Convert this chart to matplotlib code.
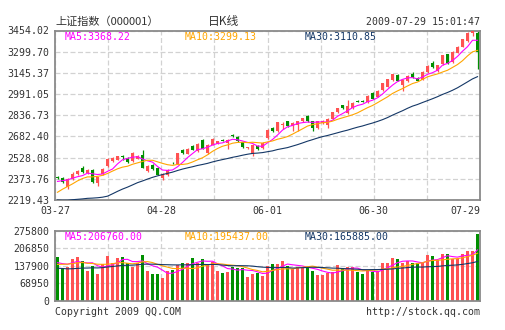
import numpy as np
import pandas as pd
import matplotlib
matplotlib.use("Agg")
import matplotlib.pyplot as plt

# x labels (every other vertical grid line)
date_labels = ["03-27", "", "04-28", "", "06-01", "", "06-30", "", "07-29"]
price_ticks = [2219.43, 2373.76, 2528.08, 2682.40, 2836.73, 2991.05, 3145.37, 3299.70, 3454.02]
volume_ticks = [0, 68950, 137900, 206850, 275800]

# 85 trading days 2009-03-27 .. 2009-07-29
opens = [2384, 2381, 2315, 2375, 2412, 2456, 2418, 2436, 2340, 2412,
         2465, 2502, 2514, 2540, 2526, 2502, 2520, 2550, 2430, 2477,
         2453, 2382, 2398, 2489, 2485, 2586, 2558, 2615, 2575, 2654,
         2563, 2622, 2628, 2656, 2636, 2690, 2678, 2639, 2597, 2557,
         2615, 2598, 2671, 2744, 2720, 2766, 2792, 2756, 2768, 2792,
         2828, 2792, 2745, 2780, 2768, 2811, 2857, 2908, 2853, 2889,
         2939, 2939, 2930, 2998, 2973, 3017, 3046, 3090, 3129, 3056,
         3087, 3136, 3111, 3095, 3153, 3216, 3160, 3209, 3281, 3225,
         3293, 3336, 3378, 3438, 3434]
highs = [2395, 2386, 2378, 2420, 2436, 2470, 2446, 2443, 2390, 2450,
         2522, 2530, 2541, 2550, 2530, 2566, 2547, 2586, 2474, 2482,
         2458, 2416, 2446, 2497, 2565, 2592, 2595, 2620, 2634, 2664,
         2626, 2670, 2652, 2662, 2663, 2697, 2684, 2644, 2608, 2626,
         2620, 2640, 2736, 2750, 2789, 2790, 2797, 2784, 2796, 2820,
         2835, 2797, 2797, 2801, 2815, 2861, 2893, 2913, 2950, 2930,
         2945, 2945, 2982, 3003, 3019, 3075, 3104, 3140, 3134, 3099,
         3128, 3153, 3116, 3157, 3200, 3233, 3205, 3278, 3286, 3304,
         3340, 3394, 3442, 3453, 3454.02]
lows = [2370, 2345, 2301, 2368, 2405, 2415, 2412, 2345, 2325, 2405,
        2460, 2497, 2510, 2509, 2490, 2497, 2515, 2450, 2425, 2440,
        2398, 2368, 2393, 2480, 2482, 2558, 2553, 2582, 2570, 2588,
        2558, 2618, 2624, 2648, 2592, 2680, 2642, 2598, 2590, 2538,
        2586, 2594, 2667, 2715, 2715, 2740, 2750, 2719, 2719, 2788,
        2788, 2719, 2740, 2776, 2744, 2806, 2852, 2884, 2848, 2884,
        2930, 2930, 2926, 2953, 2968, 3012, 3041, 3085, 3083, 3015,
        3082, 3107, 3083, 3090, 3148, 3180, 3155, 3204, 3211, 3220,
        3288, 3331, 3373, 3414, 3171]
closes = [2380, 2352, 2373, 2412, 2428, 2421, 2441, 2350, 2385, 2446,
          2518, 2526, 2537, 2536, 2495, 2562, 2543, 2455, 2470, 2447,
          2405, 2412, 2441, 2486, 2562, 2563, 2590, 2587, 2630, 2592,
          2622, 2666, 2646, 2652, 2659, 2686, 2647, 2603, 2600, 2622,
          2591, 2635, 2732, 2720, 2785, 2770, 2756, 2780, 2792, 2816,
          2792, 2745, 2792, 2797, 2811, 2857, 2889, 2889, 2901, 2925,
          2935, 2935, 2978, 2958, 3015, 3071, 3100, 3136, 3088, 3095,
          3124, 3112, 3088, 3153, 3196, 3185, 3201, 3274, 3216, 3300,
          3336, 3390, 3438, 3450, 3300]
volumes = [173, 130, 134, 164, 172, 156, 118, 137, 106, 143,
           177, 150, 169, 172, 147, 133, 150, 181, 118, 106,
           106, 91, 118, 121, 139, 150, 150, 168, 150, 165,
           144, 151, 118, 108, 112, 134, 130, 130, 95, 106,
           108, 97, 137, 146, 146, 156, 137, 123, 134, 134,
           130, 118, 102, 101, 108, 114, 140, 127, 131, 131,
           113, 104, 118, 114, 118, 150, 150, 167, 163, 147,
           156, 150, 147, 147, 180, 176, 160, 185, 185, 163,
           165, 185, 195, 195, 262]  # thousands

# the 29 sessions before 03-27, needed only for the moving averages
prior_closes = [2400, 2370, 2300, 2340, 2330, 2320, 2300, 2310, 2320, 2296,
                2010, 2000, 2040, 2070, 2080, 2050, 2080, 2060, 2070, 2078,
                2128, 2178, 2219, 2209, 2248, 2325, 2347, 2347, 2375]
prior_volumes = [165, 175, 150, 130, 120, 115, 110, 120, 105, 100,
                 95, 100, 115, 125, 120, 110, 115, 105, 110, 125,
                 125, 130, 140, 145, 140, 150, 145, 135, 147]

ma_labels_price = ["MA5:3368.22", "MA10:3299.13", "MA30:3110.85"]
ma_labels_vol = ["MA5:206760.00", "MA10:195437.00", "MA30:165885.00"]

RED = "#ff5252"
GREEN = "#008f00"
MA_COLORS = ["#ff00ff", "#ffa500", "#143766"]
GRID = "#d2d2d2"
FRAME = "#8a8a8a"
TXT = "#333333"
MONO = "DejaVu Sans Mono"
CJK = ["Noto Sans CJK SC", "DejaVu Sans"]

W, H = 505, 330


def px(x, y):
    return x / W, 1 - y / H


fig = plt.figure(figsize=(W / 100, H / 100), dpi=100)
fig.patch.set_facecolor("white")
ax = fig.add_axes([55 / W, 1 - 200 / H, 425 / W, 169.5 / H])
axv = fig.add_axes([55 / W, 1 - 300.7 / H, 425 / W, 70 / H])

n = len(closes)
x = np.arange(n)
o = np.array(opens, dtype=float)
c = np.array(closes, dtype=float)
colors = np.where(c >= o, RED, GREEN)

grid_x = np.linspace(-0.5, n - 0.5, 9)

for a in (ax, axv):
    a.set_xlim(-0.5, n - 0.5)
    a.set_xticks(grid_x)
    a.grid(True, color=GRID, linestyle=(0, (4, 2)), linewidth=0.9)
    a.set_axisbelow(True)
    for s in a.spines.values():
        s.set_color(FRAME)
        s.set_linewidth(1.3)
    a.tick_params(length=0, pad=4, labelsize=7.1, labelcolor=TXT)

# candles
ax.vlines(x, lows, highs, colors=colors, linewidth=0.9, zorder=2)
body = np.maximum(np.abs(c - o), 6)
ax.bar(x, body, bottom=np.minimum(o, c), width=0.72, color=colors, linewidth=0, zorder=3)

all_close = pd.Series(prior_closes + closes, dtype=float)
for win, col in zip((5, 10, 30), MA_COLORS):
    ma = all_close.rolling(win).mean().to_numpy()[-n:]
    ax.plot(x, ma, color=col, linewidth=0.8, zorder=4)

ax.set_ylim(price_ticks[0], price_ticks[-1])
ax.set_yticks(price_ticks)
ax.set_yticklabels([f"{t:.2f}" for t in price_ticks], family=MONO)
ax.set_xticklabels(date_labels, family=MONO)
xl = ax.get_xticklabels()
xl[-1].set_ha("right")

# volume
vol = np.array(volumes, dtype=float) * 1000
axv.bar(x, vol, width=0.72, color=colors, linewidth=0, zorder=2)
all_vol = pd.Series(prior_volumes + volumes, dtype=float) * 1000
for win, col in zip((5, 10, 30), MA_COLORS):
    ma = all_vol.rolling(win).mean().to_numpy()[-n:]
    axv.plot(x, ma, color=col, linewidth=0.8, zorder=4)
axv.set_ylim(0, volume_ticks[-1])
axv.set_yticks(volume_ticks)
axv.set_yticklabels([str(t) for t in volume_ticks], family=MONO)
axv.set_xticklabels([])

# header texts
fig.text(*px(55, 22), "上证指数（000001）", family=CJK, fontsize=8, color=TXT, va="center")
fig.text(*px(224, 22), "日K线", family=CJK, fontsize=8.5, color=TXT, va="center", ha="center")
fig.text(*px(480, 22), "2009-07-29 15:01:47", family=MONO, fontsize=7.1, color=TXT,
         va="center", ha="right")

for lbl, col, xp in zip(ma_labels_price, MA_COLORS, (65, 185, 305)):
    fig.text(*px(xp, 37), lbl, family=MONO, fontsize=7.1, color=col, va="center", zorder=10)
for lbl, col, xp in zip(ma_labels_vol, MA_COLORS, (65, 185, 305)):
    fig.text(*px(xp, 237.5), lbl, family=MONO, fontsize=7.1, color=col, va="center", zorder=10)

fig.text(*px(55, 312), "Copyright 2009 QQ.COM", family=MONO, fontsize=7.1, color=TXT, va="center")
fig.text(*px(480, 312), "http://stock.qq.com", family=MONO, fontsize=7.1, color=TXT,
         va="center", ha="right")

fig.savefig("out.png", dpi=100)
